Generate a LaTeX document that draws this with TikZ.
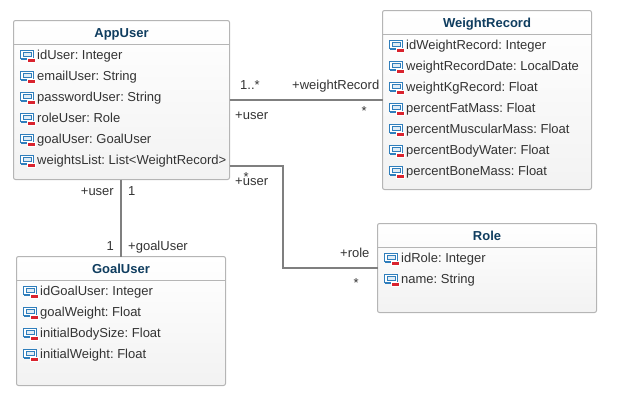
\documentclass[tikz,border=0pt]{standalone}
\usepackage{fontspec}
\setmainfont{Liberation Sans}
\frenchspacing
\definecolor{titleblue}{HTML}{0F3D5F}
\definecolor{textgray}{HTML}{333333}
\definecolor{boxgray}{HTML}{B5B5B5}
\definecolor{linegray}{HTML}{7F7F7F}
\definecolor{iconblue}{HTML}{2F7EBC}
\definecolor{iconred}{HTML}{D9232E}
\tikzset{
	classbox/.style={draw=boxgray, line width=1pt, rounded corners=2pt, inner sep=0pt, outer sep=0pt, top color=white, bottom color=black!5},
	classline/.style={draw=boxgray, line width=1pt},
	classtitle/.style={anchor=base, text=titleblue, font=\fontsize{13}{15}\selectfont\bfseries},
	attr/.style={anchor=base west, inner sep=0pt, text=textgray, font=\fontsize{13}{15}\selectfont},
	rolelabel/.style={anchor=base west, inner sep=0pt, text=textgray, font=\fontsize{13}{15}\selectfont},
	rolelabelr/.style={anchor=base east, inner sep=0pt, text=textgray, font=\fontsize{13}{15}\selectfont},
	assoc/.style={draw=linegray, line width=2pt},
	pics/attricon/.style={code={
		\draw[iconblue, line width=1pt, fill=white] (0,0) rectangle (13,8.5);
		\draw[iconblue, line width=1pt, fill=white!85!iconblue] (2.5,2.5) rectangle (10.5,6);
		\draw[iconblue, line width=1.5pt] (0,9) -- (10,9);
		\fill[white] (6.5,8) rectangle (15.5,12.5);
		\fill[iconred] (7.5,9) rectangle (14.5,12);
	}}
}
\begin{document}
\begin{tikzpicture}[x=1pt, y=-1pt]
	\useasboundingbox (0,0) rectangle (617,400);
	% classes
	\node[classbox, minimum width=216pt, minimum height=159pt] (AppUser) at (121.5,100) {};
	\node[classbox, minimum width=209pt, minimum height=179pt] (WeightRecord) at (487,100) {};
	\node[classbox, minimum width=219pt, minimum height=89pt] (Role) at (487,268) {};
	\node[classbox, minimum width=209pt, minimum height=129pt] (GoalUser) at (121,321) {};
	\draw[classline] (AppUser.north west) ++(0,24) -- ++(216,0);
	\draw[classline] (WeightRecord.north west) ++(0,24) -- ++(209,0);
	\draw[classline] (Role.north west) ++(0,24) -- ++(219,0);
	\draw[classline] (GoalUser.north west) ++(0,24) -- ++(209,0);
	\node[classtitle] (AppUserTitle) at (121.5,37) {AppUser};
	\node[classtitle] (WeightRecordTitle) at (487,27) {WeightRecord};
	\node[classtitle] (RoleTitle) at (487,240) {Role};
	\node[classtitle] (GoalUserTitle) at (121,273) {GoalUser};
	% AppUser attributes
	\foreach \y/\txt [count=\i] in {59/idUser: Integer, 80/emailUser: String, 101/passwordUser: String, 122/roleUser: Role, 143/goalUser: GoalUser, 164/weightsList: List<WeightRecord>}{
		\pic at (20.5,\y-9) {attricon};
		\node[attr] (appattr\i) at (37,\y) {\txt};
	}
	% WeightRecord attributes
	\foreach \y/\txt [count=\i] in {49/idWeightRecord: Integer, 70/weightRecordDate: LocalDate, 91/weightKgRecord: Float, 112/percentFatMass: Float, 133/percentMuscularMass: Float, 154/percentBodyWater: Float, 175/percentBoneMass: Float}{
		\pic at (389.5,\y-9) {attricon};
		\node[attr] (weightattr\i) at (406,\y) {\txt};
	}
	% Role attributes
	\foreach \y/\txt [count=\i] in {262/idRole: Integer, 283/name: String}{
		\pic at (384.5,\y-9) {attricon};
		\node[attr] (roleattr\i) at (401,\y) {\txt};
	}
	% GoalUser attributes
	\foreach \y/\txt [count=\i] in {295/idGoalUser: Integer, 316/goalWeight: Float, 337/initialBodySize: Float, 358/initialWeight: Float}{
		\pic at (23.5,\y-9) {attricon};
		\node[attr] (goalattr\i) at (40,\y) {\txt};
	}
	% associations
	\coordinate (AppUserRole) at (229.5,166);
	\coordinate (AppUserGoal) at (AppUser.south -| GoalUser.north);
	\draw[assoc] (AppUser.east) -- (WeightRecord.west);
	\draw[assoc] (AppUserRole) -| (283,217) |- (Role.west);
	\draw[assoc] (AppUserGoal) -- (GoalUser.north);
	% association labels
	\node[rolelabel] (mulAppWeight) at (240,89) {1..*};
	\node[rolelabel] (roleWeight) at (292,89) {+weightRecord};
	\node[rolelabel] (roleUserWeight) at (235,119) {+user};
	\node[rolelabel] (mulWeight) at (361.5,115.5) {*};
	\node[rolelabel] (roleUserRole) at (235,185) {+user};
	\node[rolelabel] (mulAppRole) at (243.5,181.5) {*};
	\node[rolelabel] (roleRole) at (340,257) {+role};
	\node[rolelabel] (mulRole) at (353.5,287.5) {*};
	\node[rolelabelr] (roleUserGoal) at (114,195) {+user};
	\node[rolelabel] (mulAppGoal) at (128,195) {1};
	\node[rolelabelr] (mulGoal) at (114,250) {1};
	\node[rolelabel] (roleGoal) at (128,250) {+goalUser};
\end{tikzpicture}
\end{document}
